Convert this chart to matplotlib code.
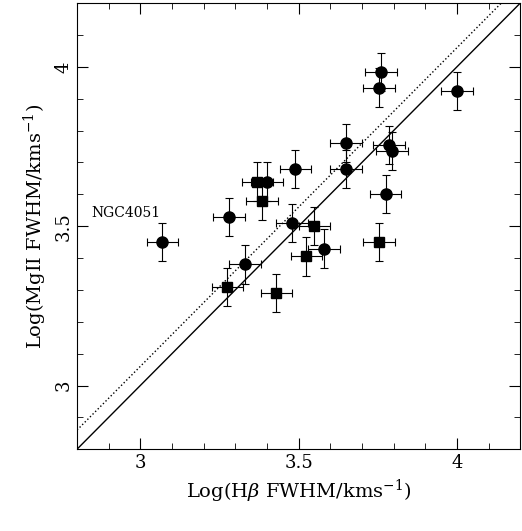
import numpy as np
import matplotlib
matplotlib.use('Agg')
import matplotlib.pyplot as plt
from matplotlib.ticker import MultipleLocator

# circles
hb_c = [3.07, 3.28, 3.33, 3.40, 3.49, 3.48, 3.58, 3.65, 3.65, 3.76, 3.755, 3.785, 3.795, 3.775, 4.00]
mg_c = [3.45, 3.53, 3.38, 3.64, 3.68, 3.51, 3.43, 3.76, 3.68, 3.985, 3.935, 3.755, 3.735, 3.60, 3.925]
# squares
hb_s = [3.275, 3.37, 3.385, 3.55, 3.525, 3.43, 3.755]
mg_s = [3.31, 3.64, 3.58, 3.50, 3.405, 3.29, 3.45]
xerr = 0.05
yerr = 0.06

plt.rcParams['font.family'] = 'DejaVu Serif'
plt.rcParams['mathtext.fontset'] = 'dejavuserif'
fig = plt.figure(figsize=(5.22, 5.31), dpi=100)
ax = fig.add_axes([0.1475, 0.154, 0.849, 0.84])

ekw = dict(ecolor='black', elinewidth=0.8, capsize=3, capthick=0.8, linestyle='none', color='black')
ax.errorbar(hb_c, mg_c, xerr=xerr, yerr=yerr, marker='o', ms=8, **ekw)
ax.errorbar(hb_s, mg_s, xerr=xerr, yerr=yerr, marker='s', ms=7, **ekw)

xx = np.array([2.8, 4.2])
ax.plot(xx, xx, color='black', lw=1)
ax.plot(xx, xx + 0.06, color='black', lw=1, ls=':')

ax.text(3.065, 3.52, 'NGC4051', ha='right', va='bottom', fontsize=10)

ax.set_xlim(2.8, 4.2)
ax.set_ylim(2.8, 4.2)
ax.xaxis.set_minor_locator(MultipleLocator(0.1))
ax.yaxis.set_minor_locator(MultipleLocator(0.1))
ax.set_xticks([3, 3.5, 4])
ax.set_xticklabels(['3', '3.5', '4'])
ax.set_yticks([3, 3.5, 4])
ax.set_yticklabels(['3', '3.5', '4'], rotation=90, va='center')
ax.tick_params(which='both', direction='in', top=True, right=True, labelsize=13)
ax.tick_params(which='major', length=8)
ax.tick_params(which='minor', length=4)
ax.set_xlabel(r'Log(H$\beta$ FWHM/kms$^{-1}$)', fontsize=14)
ax.set_ylabel(r'Log(MgII FWHM/kms$^{-1}$)', fontsize=14)

fig.savefig('out.png', dpi=100)
